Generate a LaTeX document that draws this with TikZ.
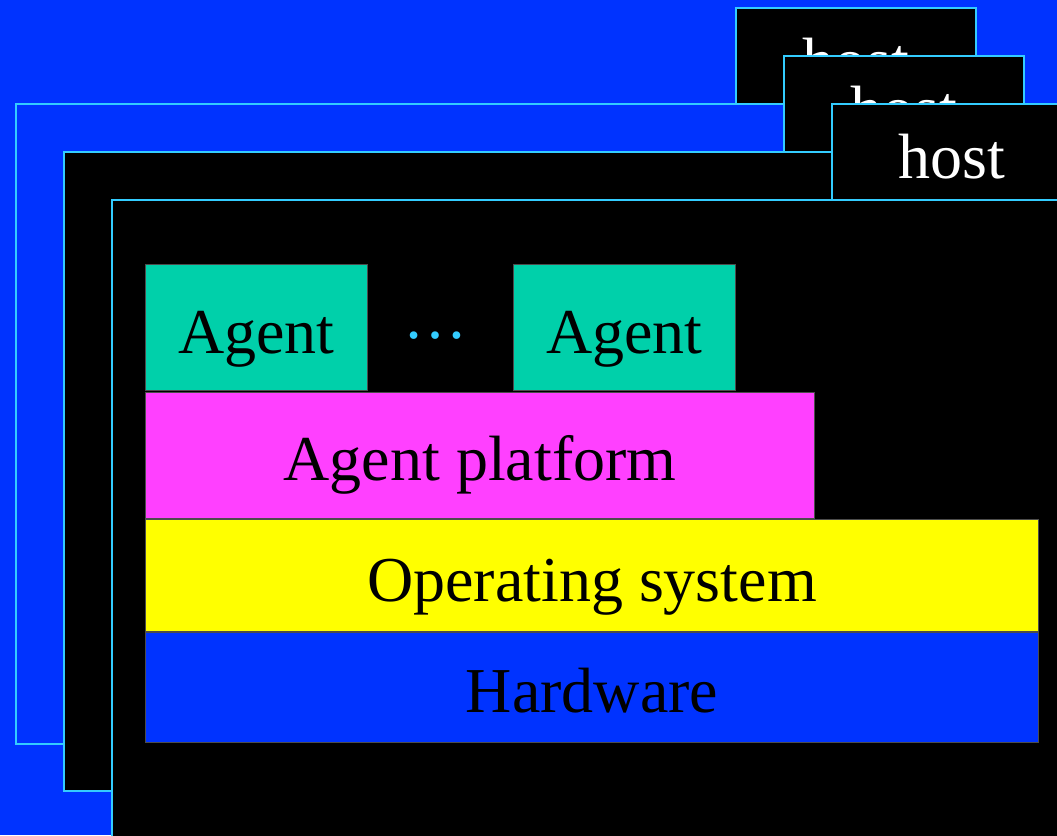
\documentclass[tikz,border=0pt]{standalone}
\usepackage{fontspec}
\setmainfont{Liberation Serif}
\definecolor{bgblue}{HTML}{0033FF}
\definecolor{edgecyan}{HTML}{33CCFF}
\definecolor{agentteal}{HTML}{00D0AA}
\definecolor{platmag}{HTML}{FF40FF}
\definecolor{osyellow}{HTML}{FFFF00}
\tikzset{
  big/.style={font=\fontsize{64}{76}\selectfont},
  panel/.style={draw=edgecyan, line width=2pt, anchor=north west, inner sep=0pt},
  tabbox/.style={panel, fill=black, text=white, big, minimum width=240pt, minimum height=96pt, text height=74pt, text depth=22pt},
  layer/.style={draw=black!70, line width=1pt, anchor=north west, inner sep=0pt, big, text=black},
}
\begin{document}
\begin{tikzpicture}[x=1pt,y=-1pt]
\useasboundingbox (0,0) rectangle (1057,835);
\fill[bgblue] (0,0) rectangle (1057,835);
\clip (0,0) rectangle (1057,835);
% back host
\node[tabbox] (tab1) at (735,7) {host};
\node[panel, fill=bgblue, minimum width=1100pt, minimum height=640pt] (body1) at (15,103) {};
% middle host
\node[tabbox] (tab2) at (783,55) {host};
\node[panel, fill=black, minimum width=1100pt, minimum height=639pt] (body2) at (63,151) {};
% front host
\node[tabbox] (tab3) at (831,103) {host};
\node[panel, fill=black, minimum width=1100pt, minimum height=700pt] (body3) at (111,199) {};
% layers
\node[layer, fill=agentteal, minimum width=222pt, minimum height=126pt, text height=89pt, text depth=37pt] (ag1) at (145,264) {Agent};
\node[layer, fill=agentteal, minimum width=222pt, minimum height=126pt, text height=89pt, text depth=37pt] (ag2) at (513,264) {Agent};
\node[big, text=edgecyan, anchor=base, inner sep=0pt] (dots) at (435,338) {…};
\node[layer, fill=platmag, minimum width=669pt, minimum height=126pt, text height=88pt, text depth=38pt] (plat) at (145,392) {Agent platform};
\node[layer, fill=osyellow, minimum width=893pt, minimum height=112pt, text height=82pt, text depth=30pt] (os) at (145,519) {Operating system};
\node[layer, fill=bgblue, minimum width=893pt, minimum height=110pt, text height=80pt, text depth=30pt] (hw) at (145,632) {Hardware};
\end{tikzpicture}
\end{document}
